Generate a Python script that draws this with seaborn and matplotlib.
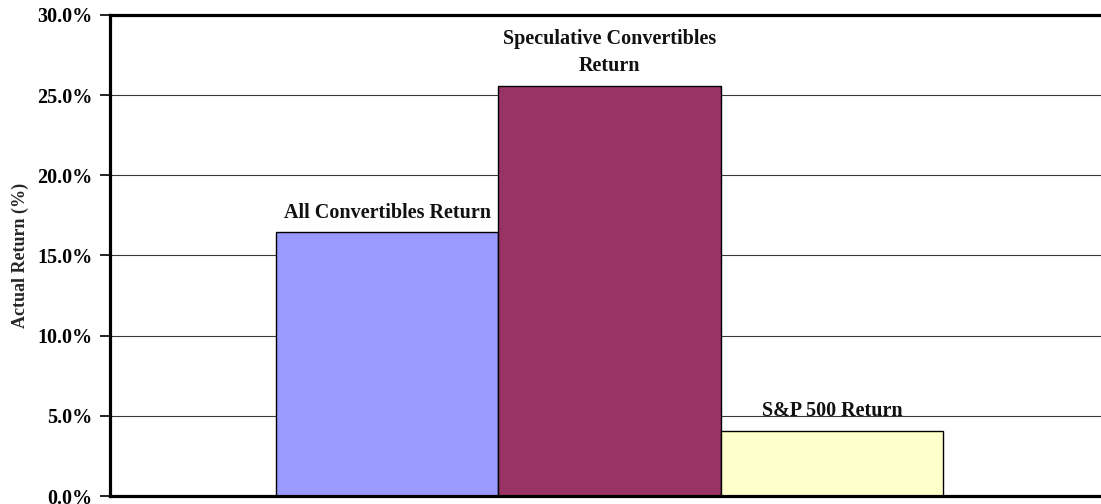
import matplotlib
matplotlib.use("Agg")
import matplotlib.pyplot as plt
import seaborn as sns
import pandas as pd

series = ["All Convertibles Return", "Speculative Convertibles\nReturn", "S&P 500 Return"]
values = [16.45, 25.58, 4.06]
colors = ["#9999FF", "#993366", "#FFFFCC"]
yticks = [0, 5, 10, 15, 20, 25, 30]
ylabel = "Actual Return (%)"

df = pd.DataFrame({"group": ["Returns"] * len(series), "series": series, "value": values})

sns.set_theme(style="white")
plt.rcParams["font.family"] = ["Liberation Serif", "DejaVu Serif"]
plt.rcParams["font.weight"] = "bold"

fig = plt.figure(figsize=(11.01, 5.04), dpi=100)
ax = fig.add_axes([110 / 1101, 8 / 504, 999 / 1101, 481 / 504])

ax.set_axisbelow(True)
ax.yaxis.grid(True, color="#3a3a3a", linewidth=0.8)

sns.barplot(data=df, x="group", y="value", hue="series", hue_order=series,
            palette=colors, saturation=1, edgecolor="black", linewidth=1.0,
            legend=False, ax=ax, gap=0, width=0.8)

for cont, name in zip(ax.containers, series):
    ax.bar_label(cont, labels=[name], padding=7, fontsize=14.5, fontweight="bold",
                 color="#111111", multialignment="center", linespacing=1.45)

ax.set_ylim(0, 30)
ax.set_xlim(-0.599, 0.599)
ax.set_yticks(yticks)
ax.set_yticklabels([f"{t:.1f}%" for t in yticks], fontsize=14.5, fontweight="bold")
ax.tick_params(axis="y", which="major", direction="out", length=7, width=1.2,
               pad=5.5, left=True, colors="black")
ax.tick_params(axis="x", bottom=False, labelbottom=False)
ax.set_xlabel("")
ax.set_ylabel(ylabel, fontsize=13, fontweight="bold", labelpad=6)

for s in ["left", "top", "bottom"]:
    ax.spines[s].set_visible(True)
    ax.spines[s].set_color("black")
    ax.spines[s].set_linewidth(2.3)
ax.spines["right"].set_visible(False)

fig.savefig("out.png", dpi=100)
